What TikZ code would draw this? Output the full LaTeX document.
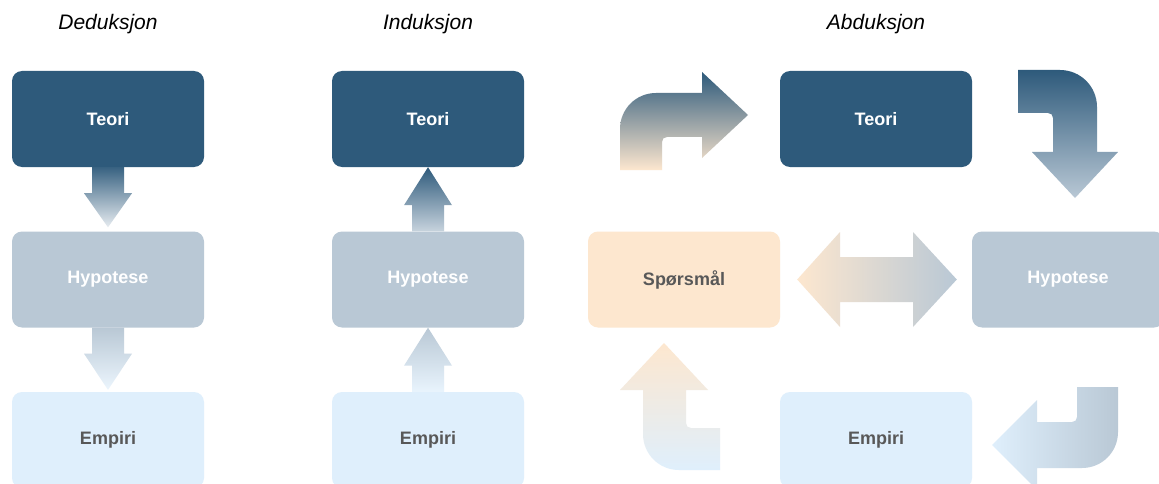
\documentclass[tikz,border=0pt]{standalone}
\usepackage{fontspec}
\setmainfont{Liberation Sans}
\usetikzlibrary{calc}
\definecolor{cdark}{RGB}{46,90,123}
\definecolor{chyp}{RGB}{185,200,213}
\definecolor{cemp}{RGB}{223,239,252}
\definecolor{csp}{RGB}{253,231,207}
\definecolor{ctxt}{RGB}{88,88,88}
\tikzset{
  box/.style={rounded corners=10pt, minimum width=192pt, minimum height=96pt, inner sep=0pt,
    font=\bfseries\fontsize{18}{21}\selectfont},
  teori/.style={box, fill=cdark, text=white},
  hyp/.style={box, fill=chyp, text=white},
  emp/.style={box, fill=cemp, text=ctxt},
  spq/.style={box, fill=csp, text=ctxt},
  title/.style={font=\itshape\fontsize{21}{25}\selectfont, text=black}
}
\newcommand\myDownArrow[5]{%
  \shade[top color=#3, bottom color=#4]
    ($(#1.south)+(-16,0)$) -- ($(#1.south)+(-16,26)$) -- ($(#1.south)+(-24,26)$)
    -- ($(#2.north)+(0,-#5)$)
    -- ($(#1.south)+(24,26)$) -- ($(#1.south)+(16,26)$) -- ($(#1.south)+(16,0)$) -- cycle;}
\newcommand\myUpArrow[4]{%
  \shade[top color=#3, bottom color=#4]
    ($(#1.north)+(-16,0)$) -- ($(#2.south)+(-16,38)$) -- ($(#2.south)+(-24,38)$)
    -- (#2.south)
    -- ($(#2.south)+(24,38)$) -- ($(#2.south)+(16,38)$) -- ($(#1.north)+(16,0)$) -- cycle;}
\begin{document}
\begin{tikzpicture}[x=1pt, y=-1pt]
\useasboundingbox (0,0) rectangle (1159,484);
\fill[white] (0,0) rectangle (1159,484);
\clip (0,0) rectangle (1159,484);

% titles
\node[title] (t1) at (108,24) {Deduksjon};
\node[title] (t2) at (428,24) {Induksjon};
\node[title] (t3) at (876,24) {Abduksjon};

% Deduksjon
\node[teori] (dT) at (108,119) {Teori};
\node[hyp]   (dH) at (108,279.5) {Hypotese};
\node[emp]   (dE) at (108,440) {Empiri};
\myDownArrow{dT}{dH}{cdark!95}{chyp!35}{4}
\myDownArrow{dH}{dE}{chyp}{cemp!60}{2}

% Induksjon
\node[teori] (iT) at (428,119) {Teori};
\node[hyp]   (iH) at (428,279.5) {Hypotese};
\node[emp]   (iE) at (428,440) {Empiri};
\myUpArrow{iH}{iT}{cdark}{chyp!80}
\myUpArrow{iE}{iH}{chyp}{cemp!70}

% Abduksjon
\node[teori] (aT) at (876,119) {Teori};
\node[hyp]   (aH) at (1068,279.5) {Hypotese};
\node[spq]   (aS) at (684,279.5) {Spørsmål};
\node[emp]   (aE) at (876,440) {Empiri};

% up then right
\shade[top color=cdark, bottom color=csp]
  (620,170) -- (620,129) .. controls (620,109) and (636,93) .. (656,93)
  -- (702,93) -- (702,72) -- (748,115) -- (702,158) -- (702,137)
  -- (667,137) .. controls (664,137) and (662,139) .. (662,142)
  -- (662,170) -- cycle;
% right then down
\shade[top color=cdark, bottom color=chyp]
  (1018,70) -- (1060,70) .. controls (1080.5,70) and (1097,86.5) .. (1097,107)
  -- (1097,152) -- (1118,152) -- (1075,198) -- (1032,152) -- (1053,152)
  -- (1053,118) .. controls (1053,115) and (1051,113) .. (1048,113)
  -- (1018,113) -- cycle;
% double arrow
\shade[left color=csp, right color=chyp]
  ($(aS.east)+(17,0)$) -- (840,232) -- (840,257) -- (913,257) -- (913,232)
  -- ($(aH.west)+(-15,0)$) -- (913,327) -- (913,302) -- (840,302) -- (840,327) -- cycle;
% up (bottom left)
\shade[top color=csp, bottom color=cemp]
  (664,343) -- (708,390) -- (686,390)
  -- (686,423) .. controls (686,426) and (688,428) .. (691,428)
  -- (720,428) -- (720,470) -- (679,470) .. controls (659,470) and (643,454) .. (643,434)
  -- (643,390) -- (620,390) -- cycle;
% left (bottom right)
\shade[left color=cemp, right color=chyp]
  (992,445) -- (1037,400) -- (1037,422)
  -- (1072,422) .. controls (1075,422) and (1077,420) .. (1077,417)
  -- (1077,387) -- (1118,387) -- (1118,432) .. controls (1118,452) and (1102,468) .. (1082,468)
  -- (1037,468) -- (1037,490) -- cycle;
\end{tikzpicture}
\end{document}
